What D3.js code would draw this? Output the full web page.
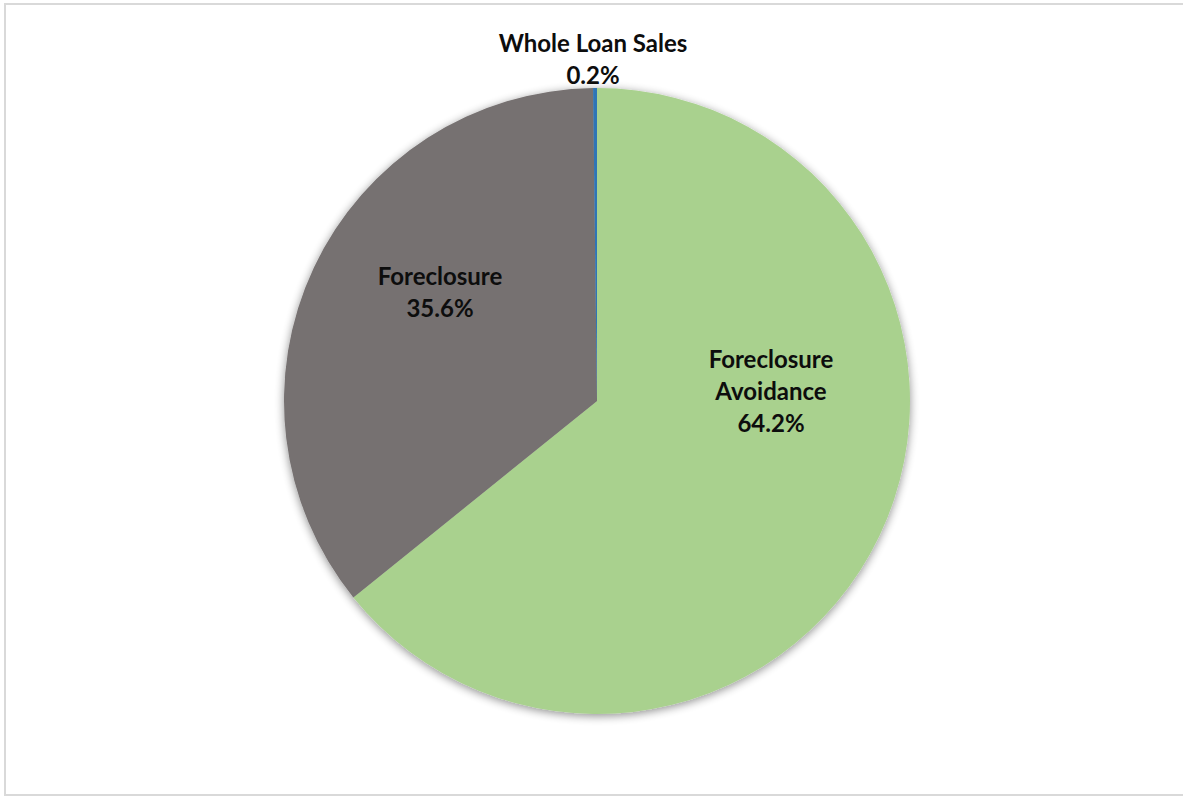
<!DOCTYPE html>
<html>
<head>
<meta charset="utf-8">
<script src="https://cdn.jsdelivr.net/npm/d3@7"></script>
<style>
  body { margin: 0; background: #fff; }
  svg text { font-family: Lato, "Open Sans", sans-serif; font-weight: bold; fill: #0d0d0d; }
</style>
</head>
<body>
<div id="chart"></div>
<script>
// Chart data
var categories = ["Foreclosure Avoidance", "Foreclosure", "Whole Loan Sales"];
var shares = [64.2, 35.6, 0.2];
var labelLines = [["Foreclosure", "Avoidance", "64.2%"], ["Foreclosure", "35.6%"], ["Whole Loan Sales", "0.2%"]];
var colors = ["#a9d18e", "#767171", "#2e75b6"];

// SVG area
var svgWidth = 1183;
var svgHeight = 797;
var cx = 597, cy = 401, radius = 313;

var svg = d3.select("#chart")
  .append("svg")
  .attr("width", svgWidth)
  .attr("height", svgHeight);

// frame
svg.append("rect")
  .attr("x", 5).attr("y", 4)
  .attr("width", svgWidth + 10).attr("height", 791)
  .attr("fill", "none")
  .attr("stroke", "#d9d9d9")
  .attr("stroke-width", 2);

// soft shadow round the pie
var defs = svg.append("defs");
var filter = defs.append("filter").attr("id", "shadow")
  .attr("x", "-10%").attr("y", "-10%").attr("width", "120%").attr("height", "120%");
filter.append("feGaussianBlur").attr("in", "SourceAlpha").attr("stdDeviation", 5);
filter.append("feOffset").attr("dx", 0).attr("dy", 2).attr("result", "blur");
filter.append("feComponentTransfer").append("feFuncA").attr("type", "linear").attr("slope", 0.45);
var merge = filter.append("feMerge");
merge.append("feMergeNode");
merge.append("feMergeNode").attr("in", "SourceGraphic");

var pieGroup = svg.append("g")
  .attr("transform", `translate(${cx}, ${cy})`);

var pie = d3.pie().sort(null).value(d => d);
var arc = d3.arc().innerRadius(0).outerRadius(radius);
var arcs = pie(shares);

pieGroup.append("g")
  .attr("filter", "url(#shadow)")
  .selectAll("path")
  .data(arcs)
  .enter()
  .append("path")
  .attr("d", arc)
  .attr("fill", (d, i) => colors[i]);

// label anchors (Excel "best fit" spots), relative to pie centre
var labelOffsets = [[174, -33], [-157, -116], [-4, -349]];
var lineHeight = 32;

pieGroup.selectAll("text.label")
  .data(arcs)
  .enter()
  .append("text")
  .attr("class", "label")
  .attr("text-anchor", "middle")
  .style("font-size", "24px")
  .each(function(d, i) {
    var t = d3.select(this);
    labelLines[i].forEach(function(line, j) {
      t.append("tspan")
        .attr("x", labelOffsets[i][0])
        .attr("y", labelOffsets[i][1] + j * lineHeight)
        .text(line);
    });
  });
</script>
</body>
</html>
